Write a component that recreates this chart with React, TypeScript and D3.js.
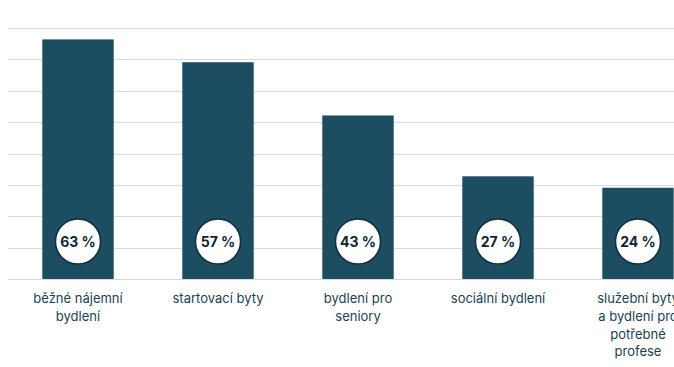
import React, { useRef, useEffect } from 'react';
import * as d3 from 'd3';

const categories: string[][] = [
  ['běžné nájemní', 'bydlení'],
  ['startovací byty'],
  ['bydlení pro', 'seniory'],
  ['sociální bydlení'],
  ['služební byty', 'a bydlení pro', 'potřebné', 'profese'],
];
const values = [63, 57, 43, 27, 24];
const gridSteps = 8;

const App: React.FC = () => {
  const svgRef = useRef<SVGSVGElement | null>(null);

  useEffect(() => {
    if (!svgRef.current) return;
    const width = 674;
    const height = 367;
    const left = 8;
    const baseline = 279;
    const top = 28;

    const svg = d3.select(svgRef.current);
    svg.selectAll('*').remove();
    svg.attr('width', width).attr('height', height);

    const keys = categories.map((c) => c.join(' '));

    const x = d3
      .scaleBand()
      .domain(keys)
      .range([left, left + 700])
      .paddingInner(0.49)
      .paddingOuter(0.245);

    const y = d3.scaleLinear().domain([0, 66]).range([baseline, top]);

    // gridlines
    const gridVals = d3.range(gridSteps + 1).map((i) => (66 / gridSteps) * i);
    svg
      .append('g')
      .selectAll('line')
      .data(gridVals)
      .enter()
      .append('line')
      .attr('x1', left)
      .attr('x2', width)
      .attr('y1', (d) => Math.round(y(d)) + 0.5)
      .attr('y2', (d) => Math.round(y(d)) + 0.5)
      .attr('stroke', '#d9d9d9')
      .attr('stroke-width', 1);

    // bars
    svg
      .append('g')
      .selectAll('rect')
      .data(values)
      .enter()
      .append('rect')
      .attr('x', (_, i) => x(keys[i]) || 0)
      .attr('y', (d) => y(d))
      .attr('width', x.bandwidth())
      .attr('height', (d) => baseline - y(d))
      .attr('fill', '#1d4d60');

    // value badges
    const badges = svg
      .append('g')
      .selectAll('g')
      .data(values)
      .enter()
      .append('g')
      .attr(
        'transform',
        (_, i) => `translate(${(x(keys[i]) || 0) + x.bandwidth() / 2},${241.5})`
      );
    badges
      .append('circle')
      .attr('r', 22.5)
      .attr('fill', '#ffffff')
      .attr('stroke', '#0f2f3d')
      .attr('stroke-width', 1.5);
    badges
      .append('text')
      .attr('text-anchor', 'middle')
      .attr('dy', '0.36em')
      .attr('font-family', 'Inter, "DejaVu Sans", sans-serif')
      .attr('font-weight', 700)
      .attr('font-size', 14)
      .attr('fill', '#0f2533')
      .text((d) => `${d} %`);

    // category labels
    const labels = svg
      .append('g')
      .selectAll('text')
      .data(categories)
      .enter()
      .append('text')
      .attr('text-anchor', 'middle')
      .attr('font-family', 'Inter, "DejaVu Sans", sans-serif')
      .attr('font-size', 13)
      .attr('fill', '#1b3f52')
      .attr('y', 303);
    labels.each(function (lines, i) {
      const cx = (x(keys[i]) || 0) + x.bandwidth() / 2;
      d3.select(this)
        .selectAll('tspan')
        .data(lines)
        .enter()
        .append('tspan')
        .attr('x', cx)
        .attr('dy', (_, j) => (j === 0 ? 0 : 17.8))
        .text((t) => t);
    });
  }, []);

  return (
    <div style={{ position: 'absolute', left: 0, top: 0 }}>
      <svg ref={svgRef} style={{ display: 'block', overflow: 'hidden' }}></svg>
    </div>
  );
};

export default App;
